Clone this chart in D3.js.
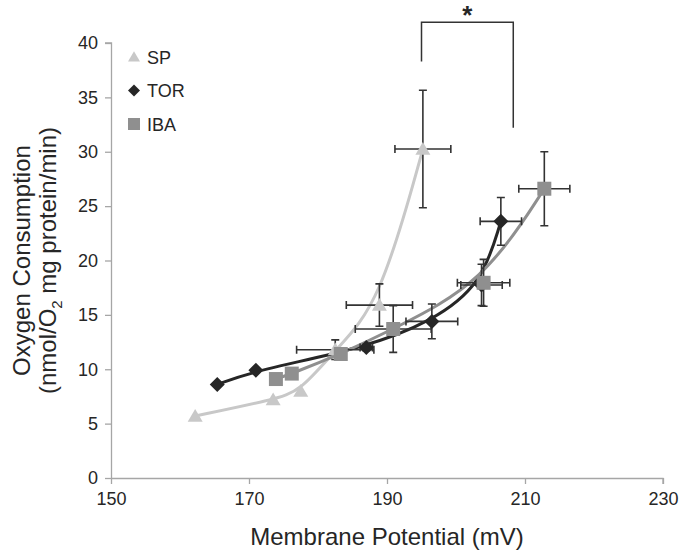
<!DOCTYPE html>
<html>
<head>
<meta charset="utf-8">
<script src="https://cdn.jsdelivr.net/npm/d3@7"></script>
<style>
  body { margin: 0; background: #fff; }
  text { font-family: "Liberation Sans", Arial, sans-serif; }
</style>
</head>
<body>
<div id="chart"></div>
<script>
// series names
const seriesNames = ["SP", "TOR", "IBA"];

// SP values
const spX = [162.2, 173.5, 177.5, 182.5, 188.9, 195.2];
const spY = [5.7, 7.2, 8.0, 11.8, 15.9, 30.25];
const spXErr = [0, 0, 0, 5.6, 4.8, 4.05];
const spYErr = [0, 0, 0, 0.9, 1.95, 5.4];

// TOR values
const torX = [165.4, 171.0, 187.0, 196.5, 203.7, 206.5];
const torY = [8.6, 9.9, 12.0, 14.4, 17.75, 23.6];
const torXErr = [0, 0, 0.9, 3.75, 3.0, 3.0];
const torYErr = [0, 0, 0.3, 1.6, 1.9, 2.2];

// IBA values
const ibaX = [173.9, 176.2, 183.3, 190.9, 204.0, 212.8];
const ibaY = [9.1, 9.6, 11.4, 13.7, 17.95, 26.6];
const ibaXErr = [0, 0, 0, 5.5, 3.8, 3.7];
const ibaYErr = [0, 0, 0.5, 2.15, 2.15, 3.4];

// axis ticks
const xTicks = [150, 170, 190, 210, 230];
const yTicks = [0, 5, 10, 15, 20, 25, 30, 35, 40];

// significance bracket (data units): left x, right x / top y, left end y, right end y
const bracketX = [195, 208.3];
const bracketY = [41.9, 38.3, 32.2];

const W = 680, H = 551;
const svg = d3.select("#chart").append("svg")
  .attr("width", W).attr("height", H);

const x = d3.scaleLinear().domain([150, 230]).range([111, 663]);
const y = d3.scaleLinear().domain([0, 40]).range([478, 43]);

const colors = { SP: "#c8c8c8", TOR: "#262626", IBA: "#8f8f8f" };

// marker shapes (half size r)
function markerPath(type, r) {
  if (type === "SP") {
    return `M0,${-r * 0.95}L${r},${r * 0.75}L${-r},${r * 0.75}Z`;
  } else if (type === "TOR") {
    return `M0,${-r}L${r},0L0,${r}L${-r},0Z`;
  }
  return `M${-r},${-r}L${r},${-r}L${r},${r}L${-r},${r}Z`;
}

// axes
const xAxis = svg.append("g")
  .attr("transform", `translate(0,${y(0)})`)
  .call(d3.axisBottom(x).tickValues(xTicks).tickSize(6).tickPadding(8));
const yAxis = svg.append("g")
  .attr("transform", `translate(${x(150)},0)`)
  .call(d3.axisLeft(y).tickValues(yTicks).tickSize(6).tickPadding(7));
[xAxis, yAxis].forEach(a => {
  a.selectAll("path, line").attr("stroke", "#a6a6a6").attr("stroke-width", 1.3);
  a.selectAll("text").attr("fill", "#262626").style("font-size", "18px");
});
xAxis.select(".domain").attr("d", `M${x(150)},0.5H${x(230)}V6`);
yAxis.select(".domain").attr("d", `M-6,${y(40)}H0.5V${y(0)}`);

// axis titles
svg.append("text")
  .attr("x", (x(150) + x(230)) / 2).attr("y", 545)
  .attr("text-anchor", "middle").attr("fill", "#262626")
  .style("font-size", "24px")
  .text("Membrane Potential (mV)");

const yTitle = svg.append("text")
  .attr("transform", `translate(0,${(y(0) + y(40)) / 2}) rotate(-90)`)
  .attr("text-anchor", "middle").attr("fill", "#262626")
  .style("font-size", "24px");
yTitle.append("tspan").attr("x", 0).attr("y", 30).text("Oxygen Consumption");
const t2 = yTitle.append("tspan").attr("x", 0).attr("y", 56);
t2.append("tspan").text("(nmol/O");
t2.append("tspan").attr("dy", 6).style("font-size", "15px").text("2");
t2.append("tspan").attr("dy", -6).text(" mg protein/min)");

// build series rows
const allSeries = [
  { name: "SP", xs: spX, ys: spY, xe: spXErr, ye: spYErr },
  { name: "TOR", xs: torX, ys: torY, xe: torXErr, ye: torYErr },
  { name: "IBA", xs: ibaX, ys: ibaY, xe: ibaXErr, ye: ibaYErr }
].map(s => ({
  name: s.name,
  pts: s.xs.map((v, i) => ({ x: v, y: s.ys[i], xe: s.xe[i], ye: s.ye[i] }))
}));

// smoothed fit line
const line = d3.line()
  .x(d => x(d.x)).y(d => y(d.y))
  .curve(d3.curveBasis);

allSeries.forEach(s => {
  svg.append("path")
    .datum(s.pts)
    .attr("fill", "none")
    .attr("stroke", colors[s.name])
    .attr("stroke-width", 3)
    .attr("d", line);
});

// error bars
const cap = 4;
const eb = svg.append("g").attr("stroke", "#333").attr("stroke-width", 1.6).attr("fill", "none");
allSeries.forEach(s => {
  s.pts.forEach(d => {
    if (d.xe > 0) {
      const x0 = x(d.x - d.xe), x1 = x(d.x + d.xe), yy = y(d.y);
      eb.append("path").attr("d",
        `M${x0},${yy}H${x1}M${x0},${yy - cap}V${yy + cap}M${x1},${yy - cap}V${yy + cap}`);
    }
    if (d.ye > 0) {
      const y0 = y(d.y - d.ye), y1 = y(d.y + d.ye), xx = x(d.x);
      eb.append("path").attr("d",
        `M${xx},${y0}V${y1}M${xx - cap},${y0}H${xx + cap}M${xx - cap},${y1}H${xx + cap}`);
    }
  });
});

// markers
allSeries.forEach(s => {
  svg.append("g").selectAll("path")
    .data(s.pts)
    .join("path")
    .attr("transform", d => `translate(${x(d.x)},${y(d.y)})`)
    .attr("d", markerPath(s.name, s.name === "IBA" ? 7 : 7.5))
    .attr("fill", colors[s.name]);
});

// legend
const legend = svg.append("g").attr("transform", "translate(134,57)");
seriesNames.forEach((n, i) => {
  const g = legend.append("g").attr("transform", `translate(0,${i * 33.5})`);
  g.append("path").attr("d", markerPath(n, 6)).attr("fill", colors[n]);
  g.append("text").attr("x", 13).attr("y", 6.5)
    .attr("fill", "#262626").style("font-size", "18px").text(n);
});

// significance bracket
svg.append("path")
  .attr("fill", "none").attr("stroke", "#333").attr("stroke-width", 1.5)
  .attr("d", `M${x(bracketX[0])},${y(bracketY[1])}V${y(bracketY[0])}H${x(bracketX[1])}V${y(bracketY[2])}`);
svg.append("text")
  .attr("x", (x(bracketX[0]) + x(bracketX[1])) / 2).attr("y", 24)
  .attr("text-anchor", "middle").attr("fill", "#262626")
  .style("font-size", "26px").style("font-weight", "bold")
  .text("*");
</script>
</body>
</html>
